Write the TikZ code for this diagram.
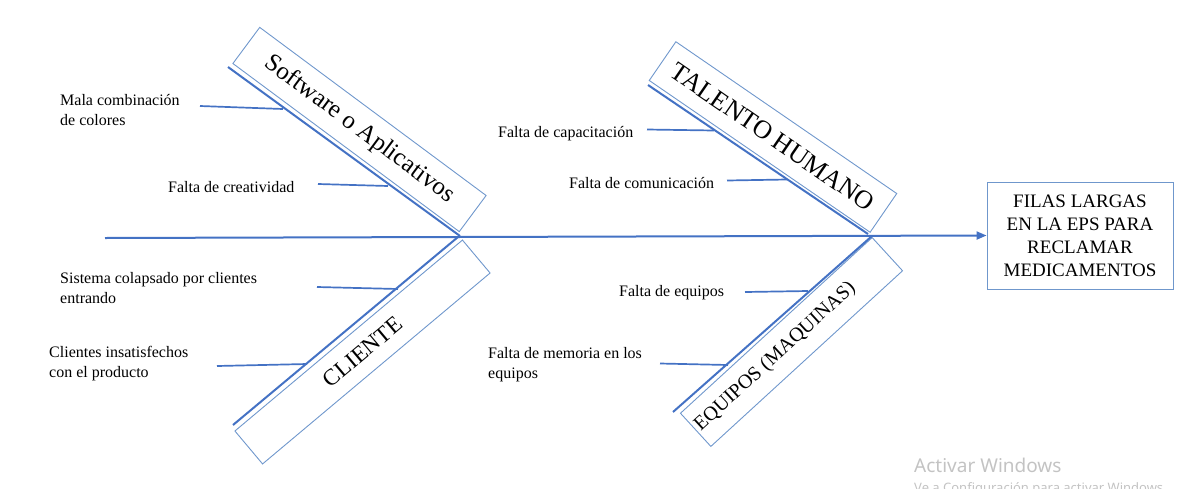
\documentclass[tikz,border=0pt]{standalone}
\usepackage{fontspec}
\setmainfont{Liberation Serif}
\newfontfamily\winfont{Noto Sans}
\usepackage{tikz}
\usetikzlibrary{calc,arrows.meta}
\definecolor{fb-line}{HTML}{4472C4}
\definecolor{fb-box}{HTML}{6F97CC}
\definecolor{fb-mark}{HTML}{C3C3C3}

\tikzset{
  catbox/.style={draw=fb-box, line width=0.9pt, inner sep=0pt, minimum height=45pt},
  cause/.style={anchor=west, inner sep=0pt, align=left, font=\fontsize{16}{20}\selectfont},
  bone/.style={fb-line, line width=2pt},
  rib/.style={fb-line, line width=1.7pt},
  wmtext/.style={anchor=base west, inner sep=0pt, text=fb-mark},
}

\begin{document}
\begin{tikzpicture}[x=1pt, y=-1pt]
    \clip (0,0) rectangle (1191,488);
    % Effect
    \node[draw=fb-box, line width=0.9pt, minimum width=186pt, minimum height=107pt, align=center,
          font=\fontsize{19}{23}\selectfont] (effect) at (1080,235.5)
          {FILAS LARGAS\\EN LA EPS PARA\\RECLAMAR\\MEDICAMENTOS};
    % Spine
    \coordinate (tail) at (105,238);
    \draw[bone, -{Triangle[length=10pt, width=8pt]}] (tail) -- (effect.west);
    % Category boxes
    \node[catbox, minimum width=282pt, rotate=-36.6, font=\fontsize{25}{28}\selectfont] (soft) at (359.5,129.5) {Software o Aplicativos};
    \node[catbox, minimum width=268pt, minimum height=47pt, rotate=-34.5, font=\fontsize{26}{28}\selectfont] (tal) at (773,137) {TALENTO HUMANO};
    \node[catbox, minimum width=297pt, minimum height=43pt, rotate=40, font=\fontsize{23}{26}\selectfont] (cli) at (362.5,352) {CLIENTE};
    \node[catbox, minimum width=260pt, rotate=42.5, font=\fontsize{20}{24}\selectfont] (equ) at (791.5,342) {EQUIPOS (MAQUINAS)\hspace*{44pt}};
    % Branches
    \coordinate (soft-a) at (228,67);
    \coordinate (soft-b) at (460,236);
    \coordinate (tal-a) at (648,85);
    \coordinate (tal-b) at (868,234);
    \coordinate (cli-a) at (233,425);
    \coordinate (cli-b) at (458,237);
    \coordinate (equ-a) at (673,412);
    \coordinate (equ-b) at (872,236);
    \draw[bone] (soft-a) -- (soft-b);
    \draw[bone] (tal-a) -- (tal-b);
    \draw[bone] (cli-a) -- (cli-b);
    \draw[bone] (equ-a) -- (equ-b);
    % Causes - software
    \node[cause] (mala) at (60,110.5) {Mala combinación\\de colores};
    \coordinate (mala-a) at (200,106);
    \coordinate (mala-b) at (283,109);
    \draw[rib] (mala-a) -- (mala-b);
    \node[cause] (crea) at (168,187) {Falta de creatividad};
    \coordinate (crea-a) at (318,184);
    \coordinate (crea-b) at (388,186);
    \draw[rib] (crea-a) -- (crea-b);
    % Causes - talento humano
    \node[cause] (capa) at (498,134) {Falta de capacitación};
    \coordinate (capa-a) at (647,129.5);
    \coordinate (capa-b) at (714,130.5);
    \draw[rib] (capa-a) -- (capa-b);
    \node[cause] (comu) at (569,183) {Falta de comunicación};
    \coordinate (comu-a) at (727,180.5);
    \coordinate (comu-b) at (787,179.5);
    \draw[rib] (comu-a) -- (comu-b);
    % Causes - cliente
    \node[cause] (sist) at (60,288) {Sistema colapsado por clientes\\entrando};
    \coordinate (sist-a) at (317,287);
    \coordinate (sist-b) at (398,289);
    \draw[rib] (sist-a) -- (sist-b);
    \node[cause] (insa) at (49,363.5) {Clientes insatisfechos\\con el producto};
    \coordinate (insa-a) at (217,366);
    \coordinate (insa-b) at (307,364);
    \draw[rib] (insa-a) -- (insa-b);
    % Causes - equipos
    \node[cause] (fequ) at (619,293) {Falta de equipos};
    \coordinate (fequ-a) at (745,292);
    \coordinate (fequ-b) at (808,291);
    \draw[rib] (fequ-a) -- (fequ-b);
    \node[cause] (memo) at (488,364.5) {Falta de memoria en los\\equipos};
    \coordinate (memo-a) at (660,363.5);
    \coordinate (memo-b) at (728,365);
    \draw[rib] (memo-a) -- (memo-b);
    % Watermark
    \node[wmtext, font=\winfont\fontsize{19}{22}\selectfont] (wm) at (914,472) {Activar Windows};
    \node[wmtext, font=\winfont\fontsize{13}{15}\selectfont] (wm2) at (914,492) {Ve a Configuración para activar Windows};
\end{tikzpicture}
\end{document}
